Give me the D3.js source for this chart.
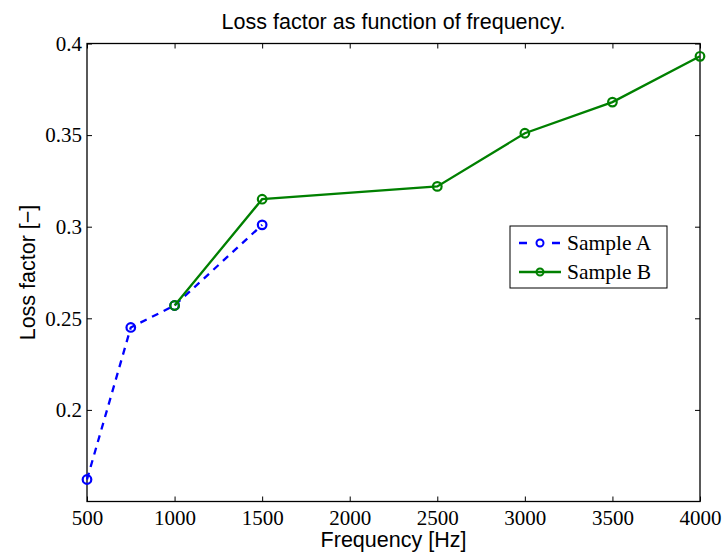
<!DOCTYPE html>
<html>
<head>
<meta charset="utf-8">
<title>Loss factor</title>
<script src="https://d3js.org/d3.v7.min.js"></script>
<style>
  body { margin: 0; background: #fff; }
  .lbl { font-family: "Liberation Sans", Arial, sans-serif; font-size: 21.5px; fill: #000; }
  .leg { font-family: "Liberation Serif", serif; font-size: 21.5px; fill: #000; }
</style>
</head>
<body>
<svg width="725" height="553"></svg>
<script>
// data
const freqA = [500, 750, 1000, 1500];
const lossA = [0.162, 0.245, 0.257, 0.301];
const freqB = [1000, 1500, 2500, 3000, 3500, 4000];
const lossB = [0.257, 0.315, 0.322, 0.351, 0.368, 0.393];
const xTicks = [500, 1000, 1500, 2000, 2500, 3000, 3500, 4000];
const yTicks = [0.2, 0.25, 0.3, 0.35, 0.4];

const svg = d3.select("svg");
const L = 87, R = 700, T = 43.5, B = 501.5;

const x = d3.scaleLinear().domain([500, 4000]).range([L, R]);
const y = d3.scaleLinear().domain([0.15, 0.4]).range([B, T]);

// axes, ticks pointing inward
svg.append("g").attr("transform", `translate(0,${B})`)
  .call(d3.axisBottom(x).tickValues(xTicks).tickSize(-5).tickPadding(9).tickFormat(d3.format("d")))
  .call(g => g.select(".domain").remove());
svg.append("g").attr("transform", `translate(0,${T})`)
  .call(d3.axisTop(x).tickValues(xTicks).tickSize(-5).tickFormat(""))
  .call(g => g.select(".domain").remove());
svg.append("g").attr("transform", `translate(${L},0)`)
  .call(d3.axisLeft(y).tickValues(yTicks).tickSize(-5).tickPadding(5).tickFormat(d => d3.format("")(d)))
  .call(g => g.select(".domain").remove());
svg.append("g").attr("transform", `translate(${R},0)`)
  .call(d3.axisRight(y).tickValues(yTicks).tickSize(-5).tickFormat(""))
  .call(g => g.select(".domain").remove());
svg.selectAll(".tick line").attr("stroke", "#000").attr("stroke-width", 1);
svg.selectAll(".tick text")
  .style("font-family", "'Liberation Serif', 'Times New Roman', serif")
  .style("font-size", "21px").style("fill", "#000");

svg.append("rect").attr("x", L).attr("y", T).attr("width", R - L).attr("height", B - T)
  .attr("fill", "none").attr("stroke", "#000").attr("stroke-width", 1.3);

const line = d3.line().x(d => x(d[0])).y(d => y(d[1]));
const series = [
  { name: "Sample A", f: freqA, v: lossA, color: "#0000ff", dash: "7,6" },
  { name: "Sample B", f: freqB, v: lossB, color: "#008000", dash: null }
];

series.forEach(s => {
  const pts = s.f.map((f, i) => [f, s.v[i]]);
  svg.append("path").datum(pts).attr("d", line)
    .attr("fill", "none").attr("stroke", s.color).attr("stroke-width", 2.3)
    .attr("stroke-dasharray", s.dash);
  svg.selectAll(null).data(pts).enter().append("circle")
    .attr("cx", d => x(d[0])).attr("cy", d => y(d[1])).attr("r", 4.3)
    .attr("fill", "none").attr("stroke", s.color).attr("stroke-width", 2.2);
});

// legend
const lg = svg.append("g");
lg.append("rect").attr("x", 510).attr("y", 226).attr("width", 157).attr("height", 62)
  .attr("fill", "#fff").attr("stroke", "#000").attr("stroke-width", 1);
series.forEach((s, i) => {
  const ly = 243 + i * 29;
  lg.append("line").attr("x1", 519).attr("x2", 561).attr("y1", ly).attr("y2", ly)
    .attr("stroke", s.color).attr("stroke-width", 2.3).attr("stroke-dasharray", s.dash ? "8,25" : null);
  lg.append("circle").attr("cx", 540).attr("cy", ly).attr("r", 3.5)
    .attr("fill", "none").attr("stroke", s.color).attr("stroke-width", 2);
  lg.append("text").attr("class", "leg").attr("x", 567).attr("y", ly + 7).text(s.name);
});

// titles
svg.append("text").attr("class", "lbl").attr("x", (L + R) / 2).attr("y", 29)
  .attr("text-anchor", "middle").text("Loss factor as function of frequency.");
svg.append("text").attr("class", "lbl").attr("x", (L + R) / 2).attr("y", 547)
  .attr("text-anchor", "middle").text("Frequency [Hz]");
svg.append("text").attr("class", "lbl")
  .attr("transform", `translate(35,${(T + B) / 2}) rotate(-90)`)
  .attr("text-anchor", "middle").text("Loss factor [\u2212]");
</script>
</body>
</html>
